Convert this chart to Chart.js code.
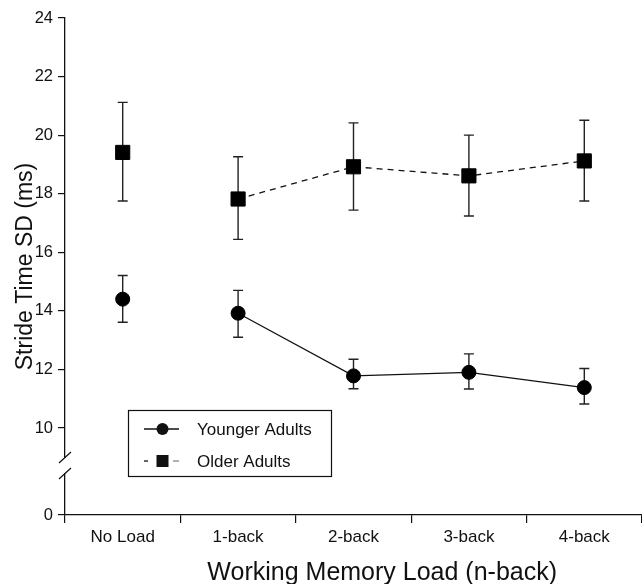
<!DOCTYPE html>
<html>
<head>
<meta charset="utf-8">
<script src="https://cdn.jsdelivr.net/npm/chart.js@4/dist/chart.umd.min.js"></script>
<style>
  html, body { margin: 0; padding: 0; background: #fff; }
  canvas { display: block; }
</style>
</head>
<body>
<canvas id="c" width="642" height="584"></canvas>
<script>
// ---- data ----
const categories = ["No Load", "1-back", "2-back", "3-back", "4-back"];
const seriesNames = ["Younger Adults", "Older Adults"];
const youngerMean  = [14.40, 13.92, 11.78, 11.90, 11.38];
const youngerUpper = [15.21, 14.70, 12.35, 12.53, 12.03];
const youngerLower = [13.61, 13.10, 11.34, 11.33, 10.82];
const olderMean    = [19.41, 17.82, 18.92, 18.61, 19.12];
const olderUpper   = [21.12, 19.26, 20.42, 20.00, 20.51];
const olderLower   = [17.75, 16.44, 17.44, 17.24, 17.75];
const yTickValues  = [10, 12, 14, 16, 18, 20, 22, 24];
const zeroLabel    = "0";
const xTitle = "Working Memory Load (n-back)";
const yTitle = "Stride Time SD (ms)";

// broken axis: the "0" tick sits just below the break
const BREAK_ZERO_POS = 7.03;
const Y_MAX = 24;

const FONT = "'Liberation Sans', Arial, Helvetica, sans-serif";
const INK = '#111';

const errorData = [
  { upper: youngerUpper, lower: youngerLower },
  { upper: olderUpper, lower: olderLower }
];

const errorBarPlugin = {
  id: 'errorBars',
  beforeDatasetsDraw(chart) {
    const ctx = chart.ctx;
    const x = chart.scales.x, y = chart.scales.y;
    ctx.save();
    ctx.strokeStyle = '#222';
    ctx.lineWidth = 1.4;
    errorData.forEach(set => {
      categories.forEach((c, i) => {
        const px = x.getPixelForValue(i);
        const pt = y.getPixelForValue(set.upper[i]);
        const pb = y.getPixelForValue(set.lower[i]);
        ctx.beginPath();
        ctx.moveTo(px, pt); ctx.lineTo(px, pb);
        ctx.moveTo(px - 5, pt); ctx.lineTo(px + 5, pt);
        ctx.moveTo(px - 5, pb); ctx.lineTo(px + 5, pb);
        ctx.stroke();
      });
    });
    ctx.restore();
  }
};

const decorPlugin = {
  id: 'decor',
  afterDraw(chart) {
    const ctx = chart.ctx;
    const area = chart.chartArea;
    ctx.save();
    // axis break on y axis
    const ax = area.left;
    const yTop = 457, yBot = 474;
    ctx.fillStyle = '#fff';
    ctx.fillRect(ax - 2, yTop + 1, 4, yBot - yTop - 2);
    ctx.strokeStyle = INK;
    ctx.lineWidth = 1.2;
    ctx.beginPath();
    ctx.moveTo(ax - 6, yTop + 6); ctx.lineTo(ax + 6, yTop - 5);
    ctx.moveTo(ax - 6, yBot + 5); ctx.lineTo(ax + 6, yBot - 6);
    ctx.stroke();

    // axis titles
    ctx.fillStyle = INK;
    ctx.font = `25px ${FONT}`;
    ctx.textAlign = 'center';
    ctx.textBaseline = 'alphabetic';
    const xs = chart.scales.x;
    const cx = (xs.getPixelForValue(2) + xs.getPixelForValue(3)) / 2 - 29;
    ctx.fillText(xTitle, cx, 580);
    ctx.save();
    ctx.translate(32, (area.top + area.bottom) / 2);
    ctx.rotate(-Math.PI / 2);
    ctx.font = `23px ${FONT}`;
    ctx.fillText(yTitle, 0, 0);
    ctx.restore();

    // legend box
    const bx = 128.5, by = 410.5, bw = 203, bh = 66;
    ctx.strokeStyle = INK;
    ctx.lineWidth = 1.2;
    ctx.strokeRect(bx, by, bw, bh);
    const rows = [429, 461];
    ctx.font = `17px ${FONT}`;
    ctx.textAlign = 'left';
    ctx.textBaseline = 'middle';
    // younger row
    ctx.lineWidth = 1.3;
    ctx.beginPath();
    ctx.moveTo(144, rows[0]); ctx.lineTo(179, rows[0]);
    ctx.stroke();
    ctx.beginPath();
    ctx.arc(162.5, rows[0], 6, 0, Math.PI * 2);
    ctx.fill();
    ctx.fillText(seriesNames[0], 197, rows[0] + 1);
    // older row
    ctx.beginPath();
    ctx.moveTo(144, rows[1]); ctx.lineTo(148, rows[1]);
    ctx.stroke();
    ctx.strokeStyle = '#888';
    ctx.beginPath();
    ctx.moveTo(173, rows[1]); ctx.lineTo(179, rows[1]);
    ctx.stroke();
    ctx.fillRect(156.5, rows[1] - 6, 12, 12);
    ctx.fillText(seriesNames[1], 197, rows[1] + 1);
    ctx.restore();
  }
};

const chart = new Chart(document.getElementById('c'), {
  type: 'line',
  data: {
    labels: categories,
    datasets: [
      {
        label: seriesNames[0],
        data: youngerMean,
        borderColor: INK,
        backgroundColor: INK,
        borderWidth: 1.3,
        pointStyle: 'circle',
        pointRadius: 7,
        pointBorderWidth: 1,
        pointBackgroundColor: '#000',
        pointBorderColor: '#000',
        tension: 0,
        segment: { borderColor: c => c.p0DataIndex === 0 ? 'rgba(0,0,0,0)' : INK }
      },
      {
        label: seriesNames[1],
        data: olderMean,
        borderColor: INK,
        backgroundColor: INK,
        borderWidth: 1.3,
        borderDash: [6, 5],
        pointStyle: 'rect',
        pointRadius: 10,
        pointBorderWidth: 1,
        pointBackgroundColor: '#000',
        pointBorderColor: '#000',
        tension: 0,
        segment: { borderColor: c => c.p0DataIndex === 0 ? 'rgba(0,0,0,0)' : INK }
      }
    ]
  },
  options: {
    responsive: false,
    animation: false,
    layout: { autoPadding: false, padding: { top: 18, right: 0, left: 0, bottom: 0 } },
    plugins: { legend: { display: false }, tooltip: { enabled: false } },
    scales: {
      x: {
        type: 'category',
        offset: true,
        afterFit(s) { s.height = 69; s.paddingLeft = 0; s.paddingRight = 0; },
        grid: { offset: true, drawOnChartArea: false, drawTicks: true, tickLength: 8, color: INK, lineWidth: 1.2 },
        border: { display: true, color: INK, width: 1.3 },
        ticks: { color: INK, font: { family: FONT, size: 17 }, padding: 4, maxRotation: 0, autoSkip: false }
      },
      y: {
        type: 'linear',
        min: BREAK_ZERO_POS,
        max: Y_MAX,
        afterFit(s) { s.width = 65; s.paddingTop = 0; s.paddingBottom = 0; },
        afterBuildTicks(s) {
          s.ticks = [BREAK_ZERO_POS].concat(yTickValues).map(v => ({ value: v }));
        },
        grid: { drawOnChartArea: false, drawTicks: true, tickLength: 7, color: INK, lineWidth: 1.2 },
        border: { display: true, color: INK, width: 1.3 },
        ticks: {
          color: INK, font: { family: FONT, size: 16.5 }, padding: 5,
          callback: v => (v < 9 ? zeroLabel : String(v))
        }
      }
    }
  },
  plugins: [errorBarPlugin, decorPlugin]
});
</script>
</body>
</html>
